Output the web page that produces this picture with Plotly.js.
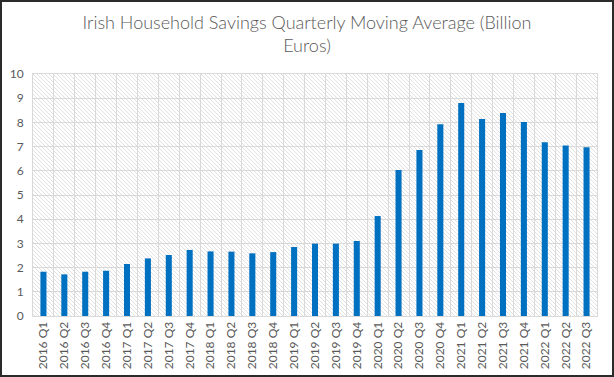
<!DOCTYPE html>
<html>
<head>
<meta charset="utf-8">
<script src="https://cdn.plot.ly/plotly-3.0.1.min.js"></script>
<style>
  html, body { margin: 0; padding: 0; background: #fff; }
  #wrap { position: relative; width: 614px; height: 377px; }
  #chart { width: 614px; height: 377px; }
  #frame { position: absolute; left: 0; top: 0; width: 614px; height: 377px; box-sizing: border-box;
           border: 2px solid #2b2b2b; pointer-events: none; }
</style>
</head>
<body>
<div id="wrap"><div id="chart"></div><div id="frame"></div></div>
<script>
const quarters = ["2016 Q1","2016 Q2","2016 Q3","2016 Q4","2017 Q1","2017 Q2","2017 Q3","2017 Q4",
  "2018 Q1","2018 Q2","2018 Q3","2018 Q4","2019 Q1","2019 Q2","2019 Q3","2019 Q4",
  "2020 Q1","2020 Q2","2020 Q3","2020 Q4","2021 Q1","2021 Q2","2021 Q3","2021 Q4",
  "2022 Q1","2022 Q2","2022 Q3"];
const savings = [1.83,1.72,1.83,1.87,2.15,2.38,2.52,2.73,
  2.67,2.66,2.59,2.64,2.85,2.99,2.99,3.10,
  4.13,6.03,6.86,7.92,8.80,8.14,8.39,8.02,
  7.18,7.05,6.97];
const chartTitle = "Irish Household Savings Quarterly Moving Average (Billion<br>Euros)";

const hatch = 'data:image/svg+xml;utf8,' + encodeURIComponent(
  '<svg xmlns="http://www.w3.org/2000/svg" width="564" height="242">' +
  '<defs><pattern id="p" width="4" height="4" patternUnits="userSpaceOnUse">' +
  '<path d="M-1,-1 L5,5 M-1,3 L1,5 M3,-1 L5,1" stroke="#dedede" stroke-width="0.9"/></pattern></defs>' +
  '<rect width="564" height="242" fill="url(#p)"/></svg>');

const trace = {
  type: 'bar',
  x: quarters,
  y: savings,
  marker: { color: '#0070C0' },
  hoverinfo: 'x+y'
};

const layout = {
  width: 614, height: 377,
  margin: { l: 33, r: 17, t: 74, b: 61 },
  paper_bgcolor: '#ffffff',
  plot_bgcolor: 'rgba(0,0,0,0)',
  font: { family: 'Lato, "Open Sans", sans-serif', color: '#595959', size: 12 },
  title: {
    text: chartTitle,
    x: 0.5, xanchor: 'center',
    y: 0.924, yanchor: 'top', yref: 'container',
    font: { family: 'Lato, "Open Sans", sans-serif', size: 18, color: '#595959', weight: 300 }
  },
  bargap: 0.71,
  showlegend: false,
  xaxis: {
    type: 'category',
    tickangle: -90,
    tickson: 'boundaries',
    ticks: '',
    showgrid: true, gridcolor: '#d9d9d9', gridwidth: 1,
    showline: true, linecolor: '#d9d9d9', mirror: true,
    tickfont: { size: 12, color: '#595959' },
    fixedrange: true
  },
  yaxis: {
    range: [0, 10], dtick: 1, tick0: 0,
    showgrid: true, gridcolor: '#d9d9d9', gridwidth: 1,
    zeroline: false,
    showline: true, linecolor: '#d9d9d9', mirror: true,
    ticks: '', ticklabelstandoff: 6,
    tickfont: { size: 12, color: '#595959' },
    fixedrange: true
  },
  images: [{
    source: hatch, xref: 'paper', yref: 'paper',
    x: 0, y: 1, sizex: 1, sizey: 1, xanchor: 'left', yanchor: 'top',
    sizing: 'stretch', layer: 'below'
  }]
};

Plotly.newPlot('chart', [trace], layout, { displayModeBar: false, staticPlot: true });
</script>
</body>
</html>
